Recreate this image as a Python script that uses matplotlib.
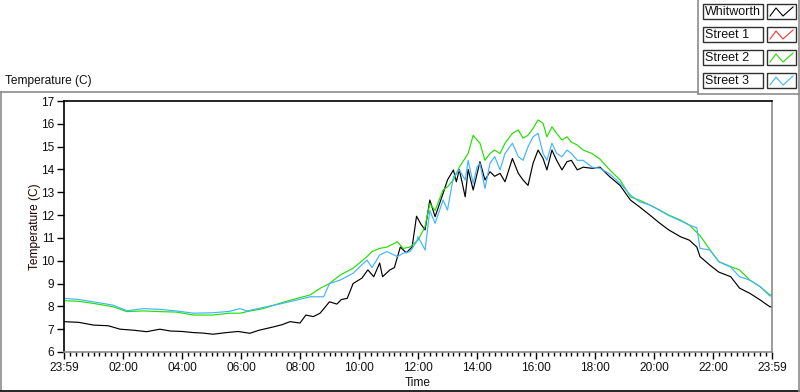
import matplotlib
matplotlib.use("Agg")
import matplotlib.pyplot as plt
from matplotlib.lines import Line2D
from matplotlib.patches import Rectangle
from matplotlib.ticker import MultipleLocator, FixedLocator

plt.rcParams['font.family'] = ['Liberation Sans', 'DejaVu Sans']

# ---------------- data (hours after 23:59, temperature in C) ----------------
series_names = ["Whitworth", "Street 1", "Street 2", "Street 3"]
series_colors = ["#000000", "#ff3030", "#22e000", "#40b4ff"]

whit_t = [0, 0.5, 1.0, 1.5, 1.9, 2.4, 2.8, 3.25, 3.6, 4.0, 4.4, 4.7, 5.05, 5.5, 5.9,
          6.3, 6.6, 7.1, 7.4, 7.66, 8.0, 8.2, 8.45, 8.68, 9.0, 9.25, 9.4, 9.6, 9.8,
          10.1, 10.3, 10.5, 10.7, 10.8, 11.05, 11.2, 11.4, 11.6, 11.8, 11.95, 12.1,
          12.24, 12.4, 12.58, 12.85, 13.0, 13.2, 13.3, 13.4, 13.6, 13.7, 13.87, 14.1,
          14.27, 14.44, 14.6, 14.78, 14.95, 15.2, 15.4, 15.56, 15.73, 15.9, 16.07,
          16.24, 16.37, 16.54, 16.7, 16.88, 17.05, 17.2, 17.4, 17.6, 17.9, 18.17,
          18.5, 18.85, 19.2, 19.5, 19.86, 20.2, 20.5, 20.9, 21.2, 21.45, 21.56, 21.9,
          22.2, 22.6, 22.9, 23.25, 23.6, 23.93, 24.0]
whit_v = [7.33, 7.30, 7.18, 7.15, 7.00, 6.95, 6.89, 7.00, 6.92, 6.90, 6.85, 6.83, 6.78,
          6.85, 6.90, 6.82, 6.95, 7.10, 7.20, 7.33, 7.27, 7.62, 7.55, 7.70, 8.20, 8.10,
          8.30, 8.35, 9.00, 9.24, 9.60, 9.30, 9.90, 9.30, 9.60, 9.70, 10.60, 10.35,
          10.60, 11.95, 11.60, 11.35, 12.66, 11.93, 12.95, 13.54, 13.98, 13.46, 14.00,
          12.80, 14.00, 13.10, 14.34, 13.54, 13.90, 13.70, 13.83, 13.46, 14.48, 13.83,
          13.54, 13.30, 14.27, 14.85, 14.48, 13.98, 14.85, 14.40, 13.98, 14.34, 14.40,
          13.98, 14.10, 14.05, 14.10, 13.68, 13.30, 12.66, 12.37, 12.00, 11.64, 11.35,
          11.05, 10.90, 10.60, 10.18, 9.80, 9.50, 9.30, 8.80, 8.57, 8.28, 7.98, 7.98]

street1_t = []
street1_v = []

street2_t = [0, 0.5, 1.0, 1.67, 2.13, 2.7, 3.25, 3.8, 4.4, 5.05, 5.6, 5.97, 6.2, 6.75,
             7.3, 7.9, 8.34, 8.68, 9.0, 9.36, 9.8, 10.27, 10.44, 10.7, 10.95, 11.3,
             11.5, 11.73, 12.0, 12.24, 12.4, 12.58, 12.85, 13.0, 13.2, 13.4, 13.7,
             13.87, 14.0, 14.1, 14.27, 14.44, 14.6, 14.78, 14.95, 15.2, 15.4, 15.56,
             15.73, 15.9, 16.07, 16.24, 16.37, 16.54, 16.7, 16.88, 17.05, 17.2, 17.4,
             17.6, 17.9, 18.17, 18.5, 18.85, 19.2, 19.5, 19.86, 20.2, 20.5, 20.9, 21.2,
             21.56, 21.7, 21.9, 22.2, 22.6, 22.9, 23.25, 23.6, 23.93, 24.0]
street2_v = [8.25, 8.22, 8.13, 7.98, 7.77, 7.80, 7.77, 7.75, 7.62, 7.62, 7.70, 7.70,
             7.77, 7.90, 8.13, 8.35, 8.50, 8.79, 9.00, 9.37, 9.67, 10.18, 10.40, 10.54,
             10.60, 10.83, 10.54, 10.60, 10.90, 11.50, 12.50, 12.20, 13.10, 13.24,
             13.54, 14.10, 14.70, 15.50, 15.29, 15.15, 14.40, 14.70, 14.85, 14.70,
             15.15, 15.58, 15.73, 15.37, 15.50, 15.80, 16.17, 16.02, 15.43, 15.87,
             15.58, 15.29, 15.43, 15.20, 15.07, 14.85, 14.70, 14.45, 13.98, 13.54,
             12.80, 12.66, 12.44, 12.22, 12.00, 11.78, 11.56, 11.10, 10.85, 10.47,
             9.96, 9.74, 9.60, 9.15, 8.86, 8.50, 8.50]

street3_t = [0, 0.5, 1.0, 1.67, 2.13, 2.7, 3.25, 3.8, 4.4, 5.05, 5.6, 5.97, 6.2, 6.75,
             7.3, 7.9, 8.34, 8.8, 9.0, 9.36, 9.8, 10.27, 10.44, 10.7, 10.95, 11.3, 11.5,
             11.73, 11.95, 12.0, 12.24, 12.4, 12.58, 12.85, 13.0, 13.2, 13.4, 13.6, 13.7,
             13.87, 14.0, 14.1, 14.27, 14.44, 14.6, 14.78, 14.95, 15.2, 15.4, 15.56,
             15.73, 15.9, 16.07, 16.24, 16.37, 16.54, 16.7, 16.88, 17.05, 17.2, 17.4,
             17.6, 17.9, 18.17, 18.5, 18.85, 19.2, 19.5, 19.86, 20.2, 20.5, 20.9, 21.2,
             21.45, 21.56, 21.9, 22.2, 22.6, 22.9, 23.25, 23.6, 23.93, 24.0]
street3_v = [8.35, 8.30, 8.20, 8.05, 7.81, 7.90, 7.87, 7.80, 7.70, 7.72, 7.78, 7.90,
             7.80, 7.95, 8.10, 8.28, 8.42, 8.42, 9.00, 9.15, 9.45, 10.03, 9.70, 10.25,
             10.40, 10.18, 10.33, 10.40, 10.83, 11.05, 10.47, 12.20, 11.64, 12.66, 12.22,
             13.68, 13.98, 13.54, 14.40, 13.39, 14.10, 14.27, 13.17, 14.27, 14.56, 13.98,
             14.70, 15.15, 14.56, 14.40, 15.00, 15.43, 15.58, 14.70, 14.40, 15.15, 14.70,
             14.56, 14.85, 14.70, 14.40, 14.40, 14.10, 14.05, 13.80, 13.39, 12.88, 12.59,
             12.44, 12.20, 11.98, 11.75, 11.56, 11.45, 10.54, 10.47, 9.95, 9.72, 9.30,
             9.15, 8.86, 8.45, 8.50]

x_tick_hours = [0, 2, 4, 6, 8, 10, 12, 14, 16, 18, 20, 22, 24]
x_tick_labels = ["23:59", "02:00", "04:00", "06:00", "08:00", "10:00", "12:00",
                 "14:00", "16:00", "18:00", "20:00", "22:00", "23:59"]
y_ticks = [6, 7, 8, 9, 10, 11, 12, 13, 14, 15, 16, 17]

# ---------------- figure ----------------
W, H = 800, 392
fig = plt.figure(figsize=(W / 100, H / 100), dpi=100)
fig.patch.set_facecolor("white")


def fx(x):
    return x / W


def fy(y):
    return 1 - y / H


FS = 8.6

ax = fig.add_axes([fx(64), fy(352), fx(772) - fx(64), fy(101) - fy(352)])

series = [(whit_t, whit_v), (street1_t, street1_v), (street2_t, street2_v),
          (street3_t, street3_v)]
for (t, v), name, c in zip(series, series_names, series_colors):
    ax.plot(t, v, color=c, lw=0.85, label=name)

ax.set_xlim(0, 24)
ax.set_ylim(6, 17)
ax.xaxis.set_major_locator(FixedLocator(x_tick_hours))
ax.set_xticklabels(x_tick_labels)
ax.xaxis.set_minor_locator(MultipleLocator(0.2))
ax.yaxis.set_major_locator(FixedLocator(y_ticks))
ax.set_yticklabels([str(v) for v in y_ticks])

ax.tick_params(axis="both", which="major", direction="out", length=5, width=1,
               color="black", labelsize=FS, pad=2, labelcolor="#101010")
ax.tick_params(axis="x", which="minor", direction="out", length=3, width=1,
               color="black")

for s in ("left", "top"):
    ax.spines[s].set_color("black")
    ax.spines[s].set_linewidth(1.2)
for s in ("right", "bottom"):
    ax.spines[s].set_color("#8a8a8a")
    ax.spines[s].set_linewidth(1.2)

ax.set_xlabel("Time", fontsize=FS, color="#101010")
ax.set_ylabel("Temperature (C)", fontsize=FS, color="#200000")
ax.xaxis.set_label_coords((418 - 64) / 708, (352 - 377) / 251)
ax.yaxis.set_label_coords((41 - 64) / 708, 0.5)

# chart title (top-left)
fig.text(fx(5), fy(81), "Temperature (C)", fontsize=FS, ha="left", va="center",
         color="#101010")

# panel frame decorations
gray = "#8c8c8c"
frame_lines = [
    ([0, 698], [92, 92], gray),
    ([1, 1], [92, 390], gray),
    ([0, 800], [390.5, 390.5], "black"),
    ([698, 698], [0, 94], gray),
    ([698, 800], [94, 94], gray),
    ([798.5, 798.5], [0, 392], gray),
]
for xs, ys, c in frame_lines:
    fig.add_artist(Line2D([fx(x) for x in xs], [fy(y) for y in ys], color=c,
                          lw=1.2, transform=fig.transFigure))

# legend (LabVIEW-style plot legend)
row_tops = [4, 27, 50, 73]
for name, c, top in zip(series_names, series_colors, row_tops):
    h = 15
    fig.add_artist(Rectangle((fx(703), fy(top + h)), fx(763) - fx(703), h / H,
                             transform=fig.transFigure, fill=False,
                             edgecolor="#303030", lw=1.0))
    fig.add_artist(Rectangle((fx(767), fy(top + h)), fx(796) - fx(767), h / H,
                             transform=fig.transFigure, fill=False,
                             edgecolor="#303030", lw=1.0))
    fig.text(fx(705), fy(top + h / 2 + 0.5), name, fontsize=9.0, ha="left",
             va="center", color="#101010")
    ix = [770, 776, 783, 793]
    iy = [top + 12, top + 4, top + 12, top + 3]
    fig.add_artist(Line2D([fx(x) for x in ix], [fy(y) for y in iy], color=c,
                          lw=0.8, transform=fig.transFigure))

fig.savefig("out.png", dpi=100, facecolor="white")
